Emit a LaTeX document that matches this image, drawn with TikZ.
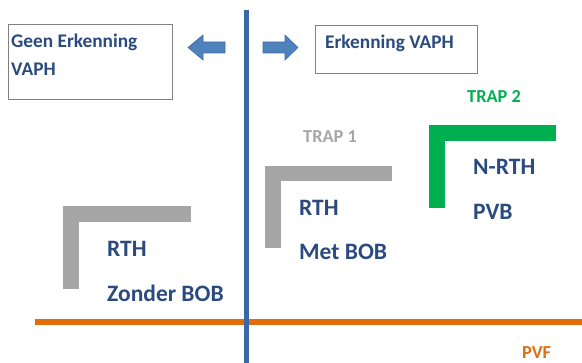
\documentclass[tikz,border=0pt]{standalone}
\usepackage{fontspec}
\setmainfont{Carlito}
\definecolor{navy}{HTML}{2B4A7E}
\definecolor{axisblue}{HTML}{3D68A8}
\definecolor{arrowblue}{HTML}{4F81BD}
\definecolor{arrowedge}{HTML}{3F6C9E}
\definecolor{trapgray}{HTML}{A6A6A6}
\definecolor{trapgreen}{HTML}{00B050}
\definecolor{pvforange}{HTML}{E36C0A}
\definecolor{boxgray}{HTML}{808080}
\begin{document}
\begin{tikzpicture}[x=1pt,y=-1pt,
  lbl/.style={font=\bfseries\fontsize{19.3}{21}\selectfont, text=navy, anchor=base west, inner sep=0pt},
  big/.style={font=\bfseries\fontsize{23.5}{25}\selectfont, text=navy, anchor=base west, inner sep=0pt},
  traptxt/.style={font=\bfseries\fontsize{18.3}{20}\selectfont, anchor=base west, inner sep=0pt},
  framebox/.style={draw=boxgray, line width=1pt, fill=white, inner sep=0pt},
  bracket/.style={line width=15.5pt, line cap=butt, line join=miter},
  bluearrow/.style={fill=arrowblue, draw=arrowedge, line width=0.6pt}]
\useasboundingbox (0,0) rectangle (582,363);
\fill[white] (0,0) rectangle (582,363);
% axes
\coordinate (vtop) at (246.5,10);
\coordinate (vbot) at (246.5,363);
\coordinate (hleft) at (35,322);
\coordinate (hright) at (582,322);
\draw[pvforange, line width=5.5pt] (hleft) -- (hright);
\draw[axisblue, line width=4.5pt] (vtop) -- (vbot);
% boxes
\node[framebox, minimum width=164pt, minimum height=75pt, anchor=north west] (leftbox) at (8,24) {};
\node[framebox, minimum width=162pt, minimum height=48pt, anchor=north west] (rightbox) at (315,25) {};
\node[lbl] (geen) at (11,48) {Geen Erkenning};
\node[lbl] (vaphl) at (11,76) {VAPH};
\node[lbl] (erk) at (325,49) {Erkenning VAPH};
% arrows
\filldraw[bluearrow] (188,47.5) -- (203,35) -- (203,42) -- (225,42) -- (225,53) -- (203,53) -- (203,60) -- cycle;
\filldraw[bluearrow] (298,47.5) -- (285,35) -- (285,42) -- (263,42) -- (263,53) -- (285,53) -- (285,60) -- cycle;
% brackets
\draw[bracket, trapgreen] (437,208) -- (437,133) -- (556,133);
\draw[bracket, trapgray] (273,248) -- (273,173.5) -- (392,173.5);
\draw[bracket, trapgray] (71,289) -- (71,214) -- (191,214);
% labels
\node[traptxt, text=trapgreen] (trap2) at (467,103) {TRAP 2};
\node[traptxt, text=trapgray] (trap1) at (303,143) {TRAP 1};
\node[big] (nrth) at (473,175) {N-RTH};
\node[big] (pvb) at (473,220) {PVB};
\node[big] (rth1) at (299,216) {RTH};
\node[big] (metbob) at (299,260) {Met BOB};
\node[big] (rth0) at (107,257) {RTH};
\node[big] (zonder) at (107,302) {Zonder BOB};
\node[traptxt, text=pvforange!85!brown] (pvf) at (522,359) {PVF};
\end{tikzpicture}
\end{document}
